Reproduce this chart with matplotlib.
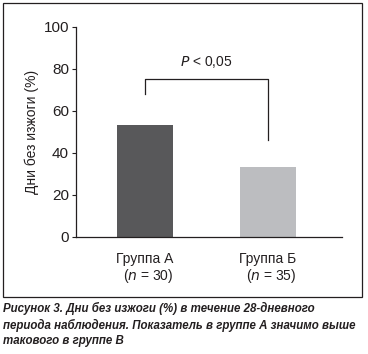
import matplotlib
matplotlib.use("Agg")
import matplotlib.pyplot as plt
from matplotlib.patches import Rectangle

categories = ["Группа А", "Группа Б"]
n_values = [30, 35]
values = [53.2, 33.3]
colors = ["#58585a", "#bcbdc0"]
yticks = [0, 20, 40, 60, 80, 100]
ylabel = "Дни без изжоги (%)"
bracket_top = 75.2
bracket_left_bottom = 68.1
bracket_right_bottom = 46.2
p_text_y = 79.3
caption = ("Рисунок 3. Дни без изжоги (%) в течение 28-дневного\n"
           "периода наблюдения. Показатель в группе А значимо выше\n"
           "такового в группе В")

plt.rcParams['font.family'] = ['Liberation Sans', 'DejaVu Sans']
txt = "#231f20"

W, H = 368, 354
fig = plt.figure(figsize=(W/100, H/100), dpi=100)

ax = fig.add_axes([76/W, 1-237/H, (342-76)/W, (237-27)/H])
x = list(range(len(categories)))
ax.bar(x, values, width=0.455, color=colors, zorder=2)
ax.set_xlim(-0.561, 1.602)
ax.set_ylim(0, 100)
ax.set_yticks(yticks)
ax.set_yticklabels([str(v) for v in yticks], fontsize=11, color=txt)
ax.tick_params(axis='y', length=3, width=0.8, color=txt, pad=2)
ax.set_xticks([])
for s in ['top', 'right']:
    ax.spines[s].set_visible(False)
for s in ['left', 'bottom']:
    ax.spines[s].set_linewidth(0.9)
    ax.spines[s].set_color(txt)
ax.set_ylabel(ylabel, fontsize=10, color=txt, labelpad=3)

ax.plot([x[0], x[0], x[1], x[1]],
        [bracket_left_bottom, bracket_top, bracket_top, bracket_right_bottom],
        color=txt, lw=0.9, clip_on=False)
ax.text((x[0]+x[1])/2, p_text_y, "$\\it{P}$ < 0,05", ha='center', va='bottom',
        fontsize=10, color=txt)

for xi, cat, n in zip(x, categories, n_values):
    ax.text(xi, -7, cat, ha='center', va='top', fontsize=10, color=txt,
            clip_on=False)
    ax.text(xi + 0.03, -14.5, "(" + "$\\it{n}$" + f" = {n})", ha='center', va='top',
            fontsize=10, color=txt, clip_on=False)

fig.add_artist(Rectangle((3/W, 1-297/H), (362-3)/W, (297-3)/H,
                         transform=fig.transFigure, fill=False,
                         edgecolor=txt, lw=0.9))

fig.text(3/W, 1-302/H, caption, ha='left', va='top', fontsize=8.3,
         fontweight='bold', fontstyle='italic', color=txt,
         linespacing=1.38)

fig.savefig("out.png", dpi=100)
